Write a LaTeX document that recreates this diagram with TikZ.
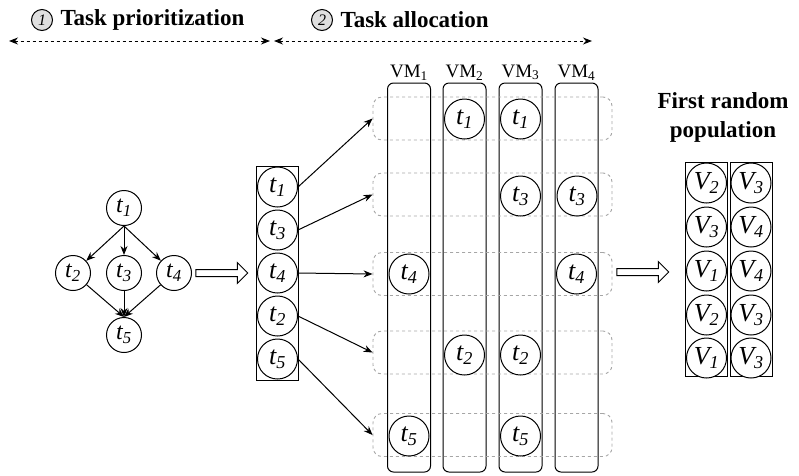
\documentclass[tikz,border=0pt]{standalone}
\usepackage{fontspec}
\setmainfont{Liberation Serif}
\usetikzlibrary{shapes.arrows,positioning,arrows.meta}

\newcommand{\tk}[1]{\textit{t\textsubscript{#1}}}
\newcommand{\vm}[1]{\textit{V\textsubscript{#1}}}

\tikzset{
  task/.style={circle,draw,fill=white,inner sep=0pt,minimum size=40pt,font=\fontsize{26}{28}\selectfont},
  dagtask/.style={task,minimum size=35pt,font=\fontsize{24}{26}\selectfont},
  vmcol/.style={draw,rounded corners=6pt,minimum width=43pt,minimum height=389pt,inner sep=0pt},
  rowbox/.style={draw=gray!70,dashed,line width=0.9pt,rounded corners=9pt,minimum width=239pt,minimum height=43pt,inner sep=0pt},
  listbox/.style={draw,minimum width=42pt,minimum height=214pt,inner sep=0pt},
  hollow/.style={single arrow,draw,fill=white,minimum height=52pt,single arrow head extend=7pt,inner sep=3pt},
  stepnum/.style={circle,draw,fill=gray!25,inner sep=0pt,minimum size=21pt,font=\fontsize{16}{17}\selectfont\itshape},
  headtext/.style={font=\fontsize{23}{25}\selectfont\bfseries,inner sep=0pt},
  tip/.style={-{Stealth[length=9pt,width=7pt]}},
}

\begin{document}
\begin{tikzpicture}[x=1pt,y=-1pt,line width=1pt]
\useasboundingbox (0,0) rectangle (799,475);

\node[stepnum] (n1) at (42,20) {1};
\node[headtext,anchor=west] (h1) at (60,20) {Task prioritization};
\node[stepnum] (n2) at (322,20) {2};
\node[headtext,anchor=west] (h2) at (340,20) {Task allocation};
\coordinate (a0) at (9,41);
\coordinate (a1) at (270,41);
\coordinate (a2) at (274,41);
\coordinate (a3) at (592,41);
\draw[dashed,{Stealth[length=9pt,width=7pt]}-{Stealth[length=9pt,width=7pt]}] (a0) -- (a1);
\draw[dashed,{Stealth[length=9pt,width=7pt]}-{Stealth[length=9pt,width=7pt]}] (a2) -- (a3);

\node[dagtask] (d1) at (124,208) {\tk{1}};
\node[dagtask] (d2) at (73,273) {\tk{2}};
\node[dagtask] (d3) at (124,273) {\tk{3}};
\node[dagtask] (d4) at (174,273) {\tk{4}};
\node[dagtask] (d5) at (124,335) {\tk{5}};
\begin{scope}[tip]
\draw (d1.south) -- (d2);
\draw (d1) -- (d3);
\draw (d1.south) -- (d4);
\draw (d2) -- (d5.north);
\draw (d3) -- (d5.north);
\draw (d4) -- (d5.north);
\end{scope}

\node[hollow] (ar1) at (220,273) {};

\node[listbox] (list) at (277.5,273) {};
\node[task] (l1) at (277.5,187) {\tk{1}};
\node[task] (l3) at (277.5,230) {\tk{3}};
\node[task] (l4) at (277.5,273) {\tk{4}};
\node[task] (l2) at (277.5,316) {\tk{2}};
\node[task] (l5) at (277.5,359) {\tk{5}};

\node[vmcol] (vm1) at (409,277.5) {};
\node[vmcol] (vm2) at (464.5,277.5) {};
\node[vmcol] (vm3) at (520.5,277.5) {};
\node[vmcol] (vm4) at (576.5,277.5) {};
\foreach \i in {1,...,4}
  \node[above=2pt of vm\i.north,inner sep=0pt,font=\fontsize{19}{20}\selectfont] {VM\textsubscript{\i}};

\node[rowbox] (r1) at (492.5,118.5) {};
\node[rowbox] (r2) at (492.5,194.5) {};
\node[rowbox] (r3) at (492.5,274) {};
\node[rowbox] (r4) at (492.5,352.5) {};
\node[rowbox] (r5) at (492.5,435) {};

\node[task] (g12) at (464.5,119) {\tk{1}};
\node[task] (g13) at (520.5,119) {\tk{1}};
\node[task] (g23) at (520.5,196) {\tk{3}};
\node[task] (g24) at (577,196) {\tk{3}};
\node[task] (g31) at (409,274) {\tk{4}};
\node[task] (g34) at (576.5,274) {\tk{4}};
\node[task] (g42) at (464.5,355) {\tk{2}};
\node[task] (g43) at (520.5,355) {\tk{2}};
\node[task] (g51) at (409,436) {\tk{5}};
\node[task] (g53) at (520.5,436) {\tk{5}};

\begin{scope}[tip]
\draw (l1.east) -- (r1.west);
\draw (l3.east) -- (r2.west);
\draw (l4.east) -- (r3.west);
\draw (l2.east) -- (r4.west);
\draw (l5.east) -- (r5.west);
\end{scope}

\node[hollow] (ar2) at (641,272) {};

\node[headtext,align=center] (pop) at (723,117) {First random\\[4pt]population};
\node[listbox] (p1) at (706.5,269) {};
\node[listbox] (p2) at (751,269) {};
\node[task] (v11) at (706.5,183) {\vm{2}};
\node[task] (v12) at (706.5,227) {\vm{3}};
\node[task] (v13) at (706.5,271) {\vm{1}};
\node[task] (v14) at (706.5,315) {\vm{2}};
\node[task] (v15) at (706.5,358) {\vm{1}};
\node[task] (v21) at (751,183) {\vm{3}};
\node[task] (v22) at (751,227) {\vm{4}};
\node[task] (v23) at (751,271) {\vm{4}};
\node[task] (v24) at (751,315) {\vm{3}};
\node[task] (v25) at (751,358) {\vm{3}};
\end{tikzpicture}
\end{document}
